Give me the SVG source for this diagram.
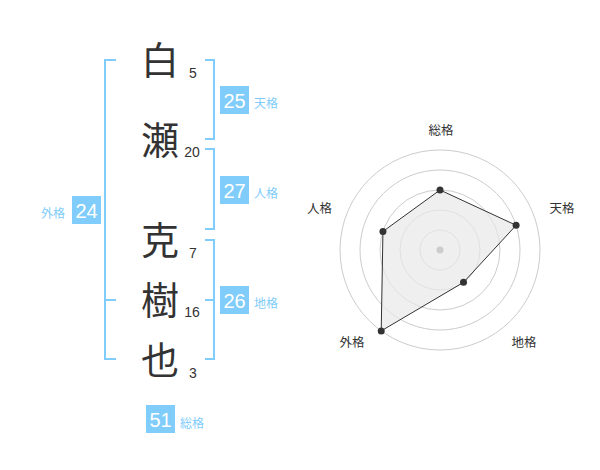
<svg xmlns="http://www.w3.org/2000/svg" width="600" height="470" viewBox="0 0 600 470">
<style>
.kanji{font-family:"Noto Sans CJK JP","Noto Sans CJK SC",sans-serif;font-size:38px;fill:#333;text-anchor:middle}
.num{font-family:"Liberation Sans",Arial,sans-serif;font-size:14px;fill:#333;text-anchor:middle}
.badge{fill:#80CCFA}
.btxt{font-family:"Liberation Sans",Arial,sans-serif;font-size:20px;fill:#fff;text-anchor:middle}
.lbl{font-family:"Noto Sans CJK JP","Noto Sans CJK SC",sans-serif;font-size:12px;fill:#80CCFA}
.br{fill:none;stroke:#80CCFA;stroke-width:2}
.ring{fill:none;stroke:#ccc;stroke-width:1}
.rl{font-family:"Noto Sans CJK JP","Noto Sans CJK SC",sans-serif;font-size:12.5px;fill:#333;text-anchor:middle}
.pt{fill:#333}
</style>
<rect width="600" height="470" fill="#fff"/>
<g id="chars">
<text class="kanji" x="160" y="74">白</text>
<text class="kanji" x="160" y="154">瀬</text>
<text class="kanji" x="160" y="254">克</text>
<text class="kanji" x="160" y="314">樹</text>
<text class="kanji" x="160" y="374">也</text>
<text class="num" x="193" y="78">5</text>
<text class="num" x="192" y="157">20</text>
<text class="num" x="193" y="258">7</text>
<text class="num" x="192" y="317">16</text>
<text class="num" x="193" y="378">3</text>
</g>
<g id="connectors">
<path class="br" d="M116,60 H105 V359 H116 M105,300 H116"/>
<path class="br" d="M205,60 H214 V139 H205"/>
<path class="br" d="M205,149 H214 V229 H205"/>
<path class="br" d="M205,240 H214 V359 H205 M205,300 H214"/>
</g>
<g id="tenkaku">
<rect class="badge" x="220" y="86" width="29" height="28"/>
<text class="btxt" x="234.5" y="107.5">25</text>
<text class="lbl" x="254" y="108">天格</text>
</g>
<g id="jinkaku">
<rect class="badge" x="220" y="176" width="29" height="28"/>
<text class="btxt" x="234.5" y="197.5">27</text>
<text class="lbl" x="254" y="198">人格</text>
</g>
<g id="chikaku">
<rect class="badge" x="220" y="286" width="29" height="28"/>
<text class="btxt" x="234.5" y="307.5">26</text>
<text class="lbl" x="254" y="308">地格</text>
</g>
<g id="gaikaku">
<rect class="badge" x="72" y="196" width="29" height="28"/>
<text class="btxt" x="86.5" y="217.5">24</text>
<text class="lbl" x="41" y="218">外格</text>
</g>
<g id="soukaku">
<rect class="badge" x="146" y="405" width="29" height="28"/>
<text class="btxt" x="160.5" y="426.5">51</text>
<text class="lbl" x="180" y="428">総格</text>
</g>
<g id="radar">
<circle class="ring" cx="440" cy="250" r="20"/>
<circle class="ring" cx="440" cy="250" r="40"/>
<circle class="ring" cx="440" cy="250" r="60"/>
<circle class="ring" cx="440" cy="250" r="80"/>
<circle class="ring" cx="440" cy="250" r="100"/>
<polygon points="440,190 516.09,225.28 463.51,282.36 381.22,330.9 382.94,231.46" fill="#e8e8e8" fill-opacity="0.7" stroke="#333" stroke-width="1"/>
<circle cx="440" cy="250" r="3.5" fill="#ccc"/>
<circle class="pt" cx="440" cy="190" r="3.5"/>
<circle class="pt" cx="516.09" cy="225.28" r="3.5"/>
<circle class="pt" cx="463.51" cy="282.36" r="3.5"/>
<circle class="pt" cx="381.22" cy="330.9" r="3.5"/>
<circle class="pt" cx="382.94" cy="231.46" r="3.5"/>
<text class="rl" x="441" y="134.5">総格</text>
<text class="rl" x="562" y="212.5">天格</text>
<text class="rl" x="524" y="346.5">地格</text>
<text class="rl" x="352" y="346.5">外格</text>
<text class="rl" x="319.5" y="212.5">人格</text>
</g>
</svg>
